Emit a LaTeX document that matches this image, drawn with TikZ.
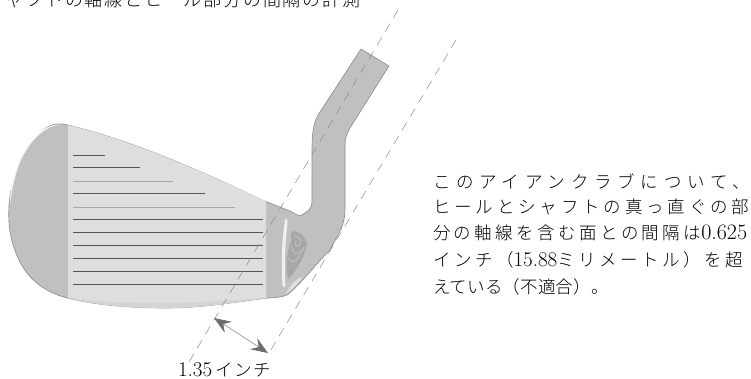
\documentclass[tikz,border=0pt]{standalone}
\usepackage{fontspec}
\usetikzlibrary{arrows.meta}
\newfontfamily\jp{Noto Sans CJK JP Light}
\definecolor{facegray}{HTML}{DDDEDE}
\definecolor{metal}{HTML}{BFC0C0}
\definecolor{edge}{HTML}{8A8B8B}
\definecolor{groove}{HTML}{555555}
\definecolor{swirl}{HTML}{A6A7A7}
\newcommand{\jsp}[1]{\addfontfeature{LetterSpace=#1}}
\newcommand{\lmnum}[2]{{\rmfamily\fontsize{#1}{#1}\selectfont #2}}
\tikzset{
  txt/.style={inner sep=0pt,outer sep=0pt,anchor=base west,font=\fontsize{17.5}{17.5}\selectfont\jp},
  groovea/.style={draw=groove,line width=0.9pt},
  grooveb/.style={draw=swirl,line width=0.7pt},
  axis/.style={draw=edge,line width=0.5pt,dash pattern=on 9pt off 7pt},
  dim/.style={draw=edge,line width=0.6pt,{Stealth[length=17pt,width=13pt,inset=6pt,color=groove!85]}-{Stealth[length=17pt,width=13pt,inset=6pt,color=groove!85]}}
}
\begin{document}
\begin{tikzpicture}[x=1pt,y=-1pt]
\useasboundingbox (0,0) rectangle (751,378);
% head silhouette
\path[fill=metal,draw=edge,line width=0.6pt]
  (68,125) .. controls (130,140) and (200,170) .. (262,200)
  -- (290,211) .. controls (296,214) and (299,217) .. (302,215)
  -- (309,210) .. controls (311,208) and (312,205) .. (312,200)
  -- (312,150) .. controls (312,135) and (313,124) .. (318,115)
  -- (361,49) -- (389,66) -- (350,128)
  .. controls (347,133) and (345,138) .. (345,145)
  -- (345,208) .. controls (345,220) and (342,228) .. (339,233)
  -- (330,250) .. controls (315,265) and (300,285) .. (287,295)
  .. controls (282,297) and (275,298) .. (267,298)
  .. controls (230,303) and (200,308) .. (165,308)
  .. controls (130,308) and (95,305) .. (67,298)
  .. controls (45,292) and (28,280) .. (18,258)
  .. controls (10,240) and (8,225) .. (9,205)
  .. controls (11,180) and (20,155) .. (32,142)
  .. controls (42,128) and (52,121) .. (68,125) -- cycle;
% face
\path[fill=facegray]
  (68,125) .. controls (130,140) and (200,170) .. (266,201.5)
  -- (266,298) .. controls (230,303) and (200,308) .. (165,308)
  .. controls (130,308) and (95,305) .. (68,298) -- cycle;
\path[fill=black!17]
  (68,298) .. controls (95,305) and (130,308) .. (165,308)
  .. controls (200,308) and (230,303) .. (266,298)
  .. controls (230,300) and (200,303) .. (165,303)
  .. controls (130,303) and (95,302) .. (68,298) -- cycle;
% white rim on the toe
\path[fill=white!90!metal]
  (62,125) .. controls (45,122) and (28,140) .. (20,158)
  .. controls (13,172) and (10,190) .. (10,205)
  .. controls (12,190) and (15,172) .. (22,158)
  .. controls (30,142) and (45,124) .. (62,125) -- cycle;
% grooves
\draw[groovea] (73,155.3) -- (105,155.3);
\draw[groovea] (73,167.3) -- (140,167.3);
\draw[grooveb] (73,181.3) -- (173,181.3);
\draw[groovea] (73,193.3) -- (205,193.3);
\draw[grooveb] (73,207.3) -- (235,207.3);
\foreach \yy in {219.3,232.7,245.7,258.3,271.3,284.3}
  \draw[groovea] (73,\yy) -- (263,\yy);
% badge
\path[fill=swirl]
  (292,231) .. controls (298,231) and (305,235) .. (307,244)
  .. controls (304,258) and (296,272) .. (288,279)
  .. controls (285,268) and (287,250) .. (291,242)
  .. controls (290,238) and (291,234) .. (292,231) -- cycle;
\draw[metal,line width=1pt] (291,246) .. controls (293,254) and (297,256) .. (301,250);
\draw[metal,line width=1pt] (289,258) .. controls (292,266) and (299,260) .. (304,247);
\draw[metal,line width=1pt] (295,236) .. controls (300,236) and (302,241) .. (299,246) .. controls (296,247) and (294,244) .. (296,241);
\path[fill=white!75!metal]
  (284.5,224) .. controls (284.5,217) and (287.5,217) .. (287.5,222)
  .. controls (286,240) and (283.5,262) .. (285.5,285)
  .. controls (284.5,288) and (283,288) .. (282.5,284)
  .. controls (281,262) and (282,240) .. (284.5,224) -- cycle;
\path[fill=facegray]
  (285,294) .. controls (290,287) and (295,278) .. (303,277)
  .. controls (298,283) and (292,291) .. (285,294) -- cycle;
% axes and dimension
\coordinate (a1) at (398,10);
\coordinate (a2) at (189,362);
\coordinate (b1) at (456,40);
\coordinate (b2) at (269,353);
\coordinate (d1) at (214,318);
\coordinate (d2) at (268,353);
\draw[axis] (a1) -- (a2);
\draw[axis] (b1) -- (b2);
\draw[dim] (d1) -- (d2);
% texts
\node[txt] (title) at (-14,6.5) {\fontsize{18}{18}\selectfont\jsp{10}シャフトの軸線とヒール部分の間隔の計測};
\node[txt] (dimlabel) at (178,376.5) {\lmnum{21}{1.35}\,\jsp{9}インチ};
\node[txt] (l1) at (433,188) {\jsp{33}このアイアンクラブについて、};
\node[txt] (l2) at (433,213.5) {\jsp{22}ヒールとシャフトの真っ直ぐの部};
\node[txt] (l3) at (433,239.5) {\jsp{19.5}分の軸線を含む面との間隔は\lmnum{22}{0.625}};
\node[txt] (l4) at (433,266) {\jsp{20}インチ（\lmnum{21}{15.88}ミリメートル）を超};
\node[txt] (l5) at (433,293) {\jsp{1}えている（不適合）。};
\end{tikzpicture}
\end{document}
